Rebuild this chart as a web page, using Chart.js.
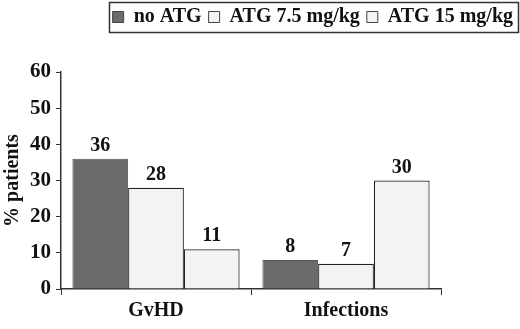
<!DOCTYPE html>
<html><head><meta charset="utf-8">
<script src="https://cdn.jsdelivr.net/npm/chart.js@4/dist/chart.umd.min.js"></script>
<style>html,body{margin:0;padding:0;background:#fff}#wrap{width:520px;height:329px}</style>
</head><body><div id="wrap"><canvas id="c" width="520" height="329"></canvas></div>
<script>
const categories = ["GvHD", "Infections"];
const seriesNames = ["no ATG", "ATG 7.5 mg/kg", "ATG 15 mg/kg"];
const noATG = [36, 8];
const atg75 = [28, 7];
const atg15 = [11, 30];
const yTicks = [0, 10, 20, 30, 40, 50, 60];

const FONT = "'Liberation Serif', 'Times New Roman', serif";

const legendBox = {
  id: 'legendBox',
  afterDraw(chart) {
    const hb = chart.legend.legendHitBoxes;
    if (!hb || !hb.length) return;
    const last = hb[hb.length - 1];
    const x0 = hb[0].left - 4, x1 = last.left + last.width + 5;
    const ctx = chart.ctx;
    ctx.save();
    ctx.strokeStyle = '#333';
    ctx.lineWidth = 1.5;
    ctx.strokeRect(Math.round(x0) + 0.5, 2.5, Math.round(x1 - x0), 30);
    ctx.restore();
  }
};
const legendSpace = {
  id: 'legendSpace',
  beforeInit(chart) {
    const fit = chart.legend.fit;
    chart.legend.fit = function () { fit.bind(chart.legend)(); this.height += 35; };
  }
};
const valueLabels = {
  id: 'valueLabels',
  afterDatasetsDraw(chart) {
    const ctx = chart.ctx;
    ctx.save();
    ctx.font = "bold 20px " + FONT;
    ctx.fillStyle = '#111';
    ctx.textAlign = 'center';
    ctx.textBaseline = 'bottom';
    chart.data.datasets.forEach((ds, i) => {
      chart.getDatasetMeta(i).data.forEach((bar, j) => {
        ctx.fillText(String(ds.data[j]), bar.x, bar.y - 3);
      });
    });
    ctx.restore();
  }
};

new Chart(document.getElementById('c'), {
  type: 'bar',
  data: {
    labels: categories,
    datasets: [
      { label: seriesNames[0], data: noATG, backgroundColor: '#6b6b6b', borderColor: '#555', borderWidth: 1 },
      { label: seriesNames[1], data: atg75, backgroundColor: '#f3f3f3', borderColor: '#222', borderWidth: 1.2 },
      { label: seriesNames[2], data: atg15, backgroundColor: '#f3f3f3', borderColor: '#222', borderWidth: 1.2 }
    ]
  },
  options: {
    responsive: false,
    animation: false,
    devicePixelRatio: 1,
    datasets: { bar: { categoryPercentage: 0.88, barPercentage: 1.0 } },
    layout: { padding: { left: 1, right: 0, top: 0, bottom: 2 } },
    plugins: {
      legend: {
        display: true,
        position: 'top',
        align: 'end',
        labels: {
          font: { family: FONT, size: 20, weight: 'bold' },
          color: '#111',
          boxWidth: 11, boxHeight: 11,
          padding: 7,
          generateLabels(chart) {
            return chart.data.datasets.map((ds, i) => ({
              text: ds.label, fillStyle: ds.backgroundColor, strokeStyle: '#444',
              lineWidth: 1, datasetIndex: i, fontColor: '#111'
            }));
          }
        }
      },
      tooltip: { enabled: false }
    },
    scales: {
      x: {
        grid: { drawOnChartArea: false, offset: true, color: '#333', tickLength: 6, tickColor: '#333' },
        border: { color: '#333', width: 1.5 },
        ticks: { font: { family: FONT, size: 20, weight: 'bold', lineHeight: 1.0 }, color: '#111', padding: 6 }
      },
      y: {
        min: 0, max: 60,
        afterBuildTicks(axis) { axis.ticks = yTicks.map(v => ({ value: v })); },
        grid: { drawOnChartArea: false, color: '#333', tickLength: 5, tickColor: '#333' },
        border: { color: '#333', width: 1.5 },
        ticks: { font: { family: FONT, size: 21, weight: 'bold' }, color: '#111', padding: 5 },
        title: { display: true, text: '% patients', font: { family: FONT, size: 20, weight: 'bold' }, color: '#111', padding: 0 }
      },
      yPad: {
        position: 'right',
        display: true,
        grid: { display: false },
        border: { display: false },
        ticks: { display: false },
        afterFit(axis) { axis.width = 79; }
      }
    }
  },
  plugins: [legendSpace, legendBox, valueLabels]
});
</script></body></html>
